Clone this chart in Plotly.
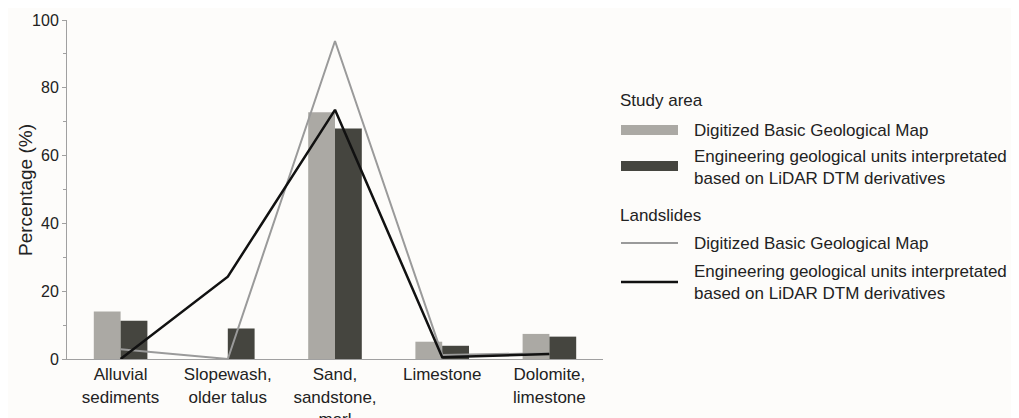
import plotly.graph_objects as go

categories = ["Alluvial<br>sediments", "Slopewash,<br>older talus", "Sand,<br>sandstone,<br>marl",
              "Limestone", "Dolomite,<br>limestone"]
study_basic = [14.0, 0.0, 72.8, 5.1, 7.4]
study_lidar = [11.3, 9.0, 68.0, 3.9, 6.6]
slides_basic = [2.9, 0.0, 93.8, 1.2, 1.7]
slides_lidar = [0.0, 24.3, 73.5, 0.5, 1.5]

LIGHT = "#aba9a4"
DARK = "#45453f"
GREYLINE = "#9a9a9a"
BLACK = "#111111"
FONT = "Liberation Sans, Arial, sans-serif"

fig = go.Figure()
fig.add_trace(go.Bar(x=categories, y=study_basic, marker=dict(color=LIGHT, line_width=0), showlegend=False))
fig.add_trace(go.Bar(x=categories, y=study_lidar, marker=dict(color=DARK, line_width=0), showlegend=False))
fig.add_trace(go.Scatter(x=categories, y=slides_basic, mode="lines", line=dict(color=GREYLINE, width=2), showlegend=False))
fig.add_trace(go.Scatter(x=categories, y=slides_lidar, mode="lines", line=dict(color=BLACK, width=2.5), showlegend=False))

# hand-made legend to get the wide swatches (positions in screen pixels)
def px_x(p):
    return (p - 67) / (603 - 67)

def px_y(p):
    return (359 - p) / (359 - 20)

legend_text = [
    ("Study area", 618, 100),
    ("Digitized Basic Geological Map", 692, 130),
    ("Engineering geological units interpretated<br>based on LiDAR DTM derivatives", 692, 167),
    ("Landslides", 618, 215),
    ("Digitized Basic Geological Map", 692, 243),
    ("Engineering geological units interpretated<br>based on LiDAR DTM derivatives", 692, 282),
]
for txt, x, y in legend_text:
    fig.add_annotation(x=px_x(x), y=px_y(y), xref="paper", yref="paper", text=txt, showarrow=False,
                       xanchor="left", yanchor="middle", align="left",
                       font=dict(family=FONT, size=17, color="#222222"))

fig.add_annotation(x=px_x(25), y=px_y(190), xref="paper", yref="paper", text="Percentage (%)",
                   showarrow=False, textangle=-90, xanchor="center", yanchor="middle",
                   font=dict(family=FONT, size=19, color="#222222"))

fig.add_shape(type="rect", xref="paper", yref="paper", x0=px_x(621), x1=px_x(678), y0=px_y(125), y1=px_y(135),
              fillcolor=LIGHT, line_width=0)
fig.add_shape(type="rect", xref="paper", yref="paper", x0=px_x(621), x1=px_x(678), y0=px_y(161), y1=px_y(171),
              fillcolor=DARK, line_width=0)
fig.add_shape(type="line", xref="paper", yref="paper", x0=px_x(621), x1=px_x(678), y0=px_y(243), y1=px_y(243),
              line=dict(color=GREYLINE, width=2))
fig.add_shape(type="line", xref="paper", yref="paper", x0=px_x(621), x1=px_x(678), y0=px_y(282), y1=px_y(282),
              line=dict(color=BLACK, width=2.5))

fig.update_layout(
    width=1019, height=418,
    margin=dict(l=59, r=424, t=12, b=67),
    paper_bgcolor="#fdfcfa", plot_bgcolor="#fdfcfa",
    barmode="group", bargap=0.5, bargroupgap=0,
    font=dict(family=FONT, size=16, color="#222222"),
    showlegend=False,
)
fig.update_xaxes(showline=True, linecolor="#a0a0a0", linewidth=1, ticks="", showgrid=False,
                 tickfont=dict(size=17), range=[-0.5, 4.5], automargin=False)
fig.update_yaxes(range=[0, 100], dtick=20, showline=True, linecolor="#a0a0a0", linewidth=1,
                 ticks="outside", ticklen=4, tickcolor="#a0a0a0", showgrid=False, zeroline=False,
                 minor=dict(dtick=10, ticks="outside", ticklen=3, tickcolor="#a0a0a0"),
                 tickfont=dict(size=16), automargin=False)

fig.write_html("out.html")
